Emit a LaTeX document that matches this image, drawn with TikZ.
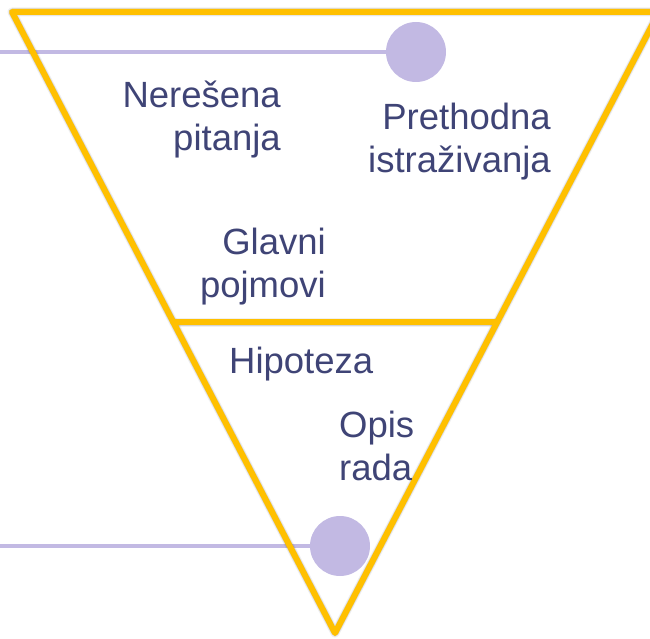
\documentclass[tikz,border=0pt]{standalone}
\usepackage{fontspec}
\setmainfont{Liberation Sans}
\definecolor{gold}{HTML}{FFC000}
\definecolor{lav}{HTML}{C2B9E3}
\definecolor{ink}{HTML}{3F4476}
\begin{document}
\begin{tikzpicture}[x=1pt,y=-1pt,
  funnel/.style={draw=gold,line width=6pt,line join=round,line cap=round},
  shade/.style={draw=black,opacity=0.12,line width=7pt,line join=round},
  lavline/.style={draw=lav,line width=3.5pt},
  dot/.style={circle,fill=lav,minimum size=60pt,inner sep=0pt},
  lbl/.style={text=ink,inner sep=0pt,font=\fontsize{36.5}{43}\selectfont}]
\useasboundingbox (0,0) rectangle (650,639);
% circles and lines
\node[dot] (c1) at (416,52) {};
\node[dot] (c2) at (340,546) {};
\coordinate (l1) at (0,52);
\coordinate (l2) at (0,546);
\draw[lavline] (l1) -- (c1.west);
\draw[lavline] (l2) -- (c2.west);
% funnel shape
\coordinate (tl) at (12,12);
\coordinate (tr) at (659,12);
\coordinate (bt) at (335,633);
\coordinate (ml) at (173,322);
\coordinate (mr) at (497,322);
\begin{scope}[shift={(4,4)}]
\draw[shade] (tl) -- (tr) -- (bt) -- cycle;
\draw[shade] (ml) -- (mr);
\end{scope}
\begin{scope}[shift={(2.5,2.5)}]
\draw[shade,line width=9pt,opacity=0.06] (tl) -- (tr) -- (bt) -- cycle;
\draw[shade,line width=9pt,opacity=0.06] (ml) -- (mr);
\end{scope}
\draw[funnel] (tl) -- (tr) -- (bt) -- cycle;
\draw[funnel] (ml) -- (mr);
% labels
\node[lbl,align=right,anchor=east] (t1) at (281,120) {Nerešena\\pitanja};
\node[lbl,align=right,anchor=east] (t2) at (551,142) {Prethodna\\istraživanja};
\node[lbl,align=right,anchor=east] (t3) at (326,267) {Glavni\\pojmovi};
\node[lbl,align=left,anchor=west] (t4) at (229,364) {Hipoteza};
\node[lbl,align=left,anchor=west] (t5) at (339,446) {Opis\\rada};
\end{tikzpicture}
\end{document}
